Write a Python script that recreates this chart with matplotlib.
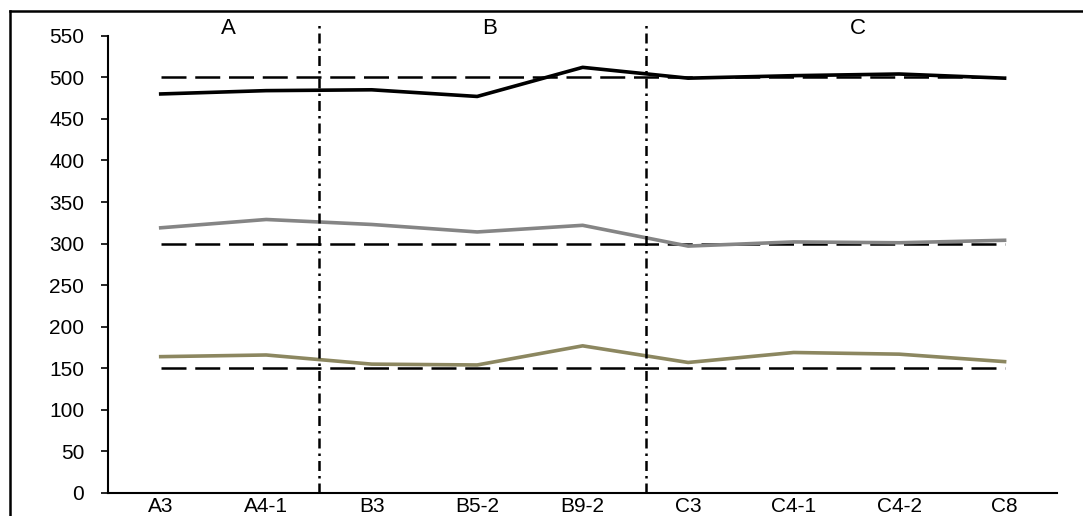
import matplotlib
matplotlib.use('Agg')
import matplotlib.pyplot as plt
from matplotlib.lines import Line2D

plt.rcParams['font.family'] = ['Liberation Sans', 'DejaVu Sans']

samples = ['A3', 'A4-1', 'B3', 'B5-2', 'B9-2', 'C3', 'C4-1', 'C4-2', 'C8']
black_vals = [480, 484, 485, 477, 512, 499, 502, 504, 499]
gray_vals = [319, 329, 323, 314, 322, 297, 302, 301, 304]
olive_vals = [164, 166, 155, 154, 177, 157, 169, 167, 158]
ref_levels = [500, 300, 150]
groups = ['A', 'B', 'C']
group_x = [0.64, 3.12, 6.61]
split_x = [1.5, 4.6]

fig = plt.figure(figsize=(10.83, 5.16), dpi=100)
ax = fig.add_axes([0.0997, 0.0446, 0.8766, 0.9167])

x = list(range(len(samples)))

# reference levels (dashed)
for lv in ref_levels:
    ax.plot([x[0], x[-1]], [lv, lv], color='black', lw=1.8,
            dashes=(10, 3.5), zorder=2)

ax.plot(x, black_vals, color='black', lw=2.6, zorder=3)
ax.plot(x, gray_vals, color='#858585', lw=2.6, zorder=3)
ax.plot(x, olive_vals, color='#8c8760', lw=2.6, zorder=3)

# group separators
for sx in split_x:
    ax.axvline(sx, ymin=0, ymax=0.996, color='black', lw=1.8,
               dashes=(4, 2, 1, 2), zorder=4)

for g, gx in zip(groups, group_x):
    ax.text(gx, 559, g, ha='center', va='center', fontsize=16)

ax.set_xlim(-0.5, 8.5)
ax.set_ylim(0, 569)
ax.set_yticks(range(0, 551, 50))
ax.set_xticks(x)
ax.set_xticklabels(samples)
ax.spines['top'].set_visible(False)
ax.spines['right'].set_visible(False)
ax.spines['left'].set_bounds(0, 550)
ax.spines['left'].set_linewidth(1.5)
ax.spines['bottom'].set_linewidth(1.5)
ax.tick_params(axis='y', direction='out', length=5, width=1.2, pad=12, labelsize=15)
ax.tick_params(axis='x', length=0, pad=3, labelsize=15)

# outer frame: top and left edges only
fig.add_artist(Line2D([0.009, 1.0], [0.979, 0.979], color='black', lw=1.8,
                      transform=fig.transFigure))
fig.add_artist(Line2D([0.009, 0.009], [0.0, 0.979], color='black', lw=1.8,
                      transform=fig.transFigure))

fig.savefig('out.png', dpi=100)
